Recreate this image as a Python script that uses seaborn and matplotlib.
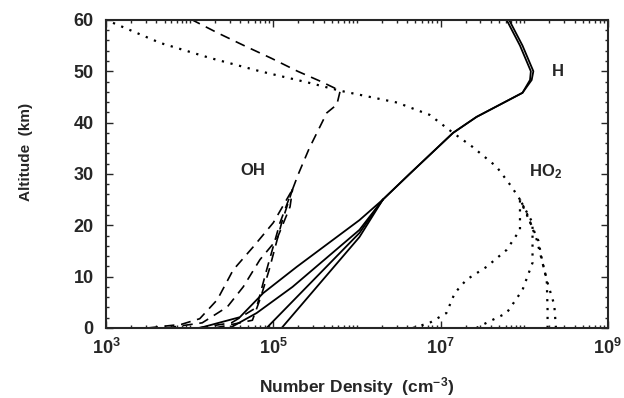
"""
Altitude profiles of H, OH and HO2 number density (log x axis).
"""

import numpy as np
import pandas as pd
import matplotlib
matplotlib.use("Agg")
import matplotlib.pyplot as plt
from matplotlib.ticker import FixedLocator, NullFormatter
import seaborn as sns

#####################################
## Data (log10 of number density, altitude in km)
#####################################

# H, shared upper part (25-60 km)
h_top_alt = [25.0, 30.0, 38.0, 41.1, 45.8, 48.3, 50.0, 55.0, 60.0]
h_top_log = [6.31, 6.63, 7.15, 7.43, 7.98, 8.07, 8.08, 7.95, 7.79]
# second, slightly offset trace near the top
h_top2_log = [6.31, 6.63, 7.15, 7.43, 7.98, 8.09, 8.11, 7.98, 7.82]

# H, four lower branches (0-25 km)
h_low_alt = [
    [0.0, 2.1, 6.8, 11.9, 21.0, 25.0],
    [0.0, 2.9, 8.0, 19.1, 25.0],
    [0.0, 18.5, 25.0],
    [0.0, 17.7, 25.0],
]
h_low_log = [
    [4.12, 4.60, 4.88, 5.28, 6.03, 6.31],
    [4.48, 4.80, 5.23, 6.03, 6.31],
    [4.92, 6.03, 6.31],
    [5.10, 6.03, 6.31],
]

# OH, shared upper part (27-60 km)
oh_top_alt = [27.0, 30.0, 35.0, 41.9, 43.5, 46.2, 48.0, 50.0, 52.5, 55.0, 57.5, 60.0]
oh_top_log = [5.23, 5.30, 5.43, 5.64, 5.76, 5.80, 5.57, 5.29, 4.98, 4.65, 4.33, 4.03]

# OH, four lower branches
oh_low_alt = [
    [0.0, 0.7, 1.8, 5.5, 11.3, 15.8, 20.5, 27.0],
    [0.0, 1.0, 4.1, 8.0, 13.3, 17.2, 23.6, 27.0],
    [0.0, 1.0, 4.0, 11.3, 20.5, 27.0],
    [0.0, 1.5, 6.0, 11.3, 20.5, 27.0],
]
oh_low_log = [
    [3.50, 3.90, 4.12, 4.33, 4.52, 4.76, 5.00, 5.23],
    [3.72, 4.15, 4.45, 4.64, 4.84, 5.04, 5.20, 5.23],
    [4.10, 4.50, 4.80, 4.92, 5.08, 5.23],
    [4.30, 4.75, 4.85, 4.95, 5.10, 5.23],
]

# HO2, shared upper part (25-60 km)
ho2_top_alt = [25.0, 27.5, 31.4, 35.3, 38.0, 41.5, 43.9, 46.2, 47.7, 50.0, 52.6, 55.5, 60.0]
ho2_top_log = [7.95, 7.85, 7.67, 7.38, 7.15, 6.87, 6.48, 5.80, 5.44, 4.84, 4.24, 3.65, 3.00]

# HO2, four lower branches
ho2_low_alt = [
    [0.0, 1.0, 2.9, 6.8, 9.4, 11.9, 15.2, 19.1, 23.6, 25.0],
    [0.0, 1.0, 2.9, 7.4, 12.7, 20.5, 25.0],
    [0.0, 3.5, 9.4, 17.2, 22.4, 25.0],
    [0.0, 4.5, 8.8, 12.7, 17.0, 25.0],
]
ho2_low_log = [
    [6.67, 6.87, 7.07, 7.17, 7.31, 7.55, 7.79, 7.95, 7.95, 7.95],
    [7.43, 7.55, 7.79, 7.98, 8.10, 8.10, 7.95],
    [8.28, 8.28, 8.27, 8.15, 8.03, 7.95],
    [8.38, 8.36, 8.28, 8.22, 8.17, 7.95],
]

#####################################
## Build a long table of all traces
#####################################

rows = []


def add_trace(name, species, alts, logs):
    for a, l in zip(alts, logs):
        rows.append({"trace": name, "species": species, "alt": a, "dens": 10 ** l})


add_trace("h_top", "H", h_top_alt, h_top_log)
add_trace("h_top2", "H", h_top_alt, h_top2_log)
for i in range(len(h_low_alt)):
    add_trace(f"h_low{i}", "H", h_low_alt[i], h_low_log[i])
add_trace("oh_top", "OH", oh_top_alt, oh_top_log)
for i in range(len(oh_low_alt)):
    add_trace(f"oh_low{i}", "OH", oh_low_alt[i], oh_low_log[i])
add_trace("ho2_top", "HO2", ho2_top_alt, ho2_top_log)
for i in range(len(ho2_low_alt)):
    add_trace(f"ho2_low{i}", "HO2", ho2_low_alt[i], ho2_low_log[i])

df = pd.DataFrame(rows)

#####################################
## Plot
#####################################

sns.set_theme(style="ticks")
plt.rcParams["font.family"] = ["Liberation Sans", "DejaVu Sans"]
plt.rcParams["font.weight"] = "bold"
plt.rcParams["mathtext.fontset"] = "custom"
plt.rcParams["mathtext.rm"] = "Liberation Sans:bold"
plt.rcParams["mathtext.bf"] = "Liberation Sans:bold"
plt.rcParams["mathtext.default"] = "bf"

fig = plt.figure(figsize=(6.24, 3.98), dpi=100)
ax = fig.add_axes([0.170, 0.176, 0.804, 0.774])

styles = {
    "H": dict(linestyle="-", linewidth=1.3),
    "OH": dict(linestyle=(0, (6, 4)), linewidth=1.2),
    "HO2": dict(linestyle=(0, (1, 3)), linewidth=1.6),
}

for name, grp in df.groupby("trace", sort=False):
    sp = grp["species"].iloc[0]
    sns.lineplot(data=grp, x="dens", y="alt", sort=False, estimator=None,
                 color="black", ax=ax, **styles[sp])

ax.set_xscale("log")
ax.set_xlim(1e3, 1e9)
ax.set_ylim(0, 60)

# ticks
ax.set_xticks([1e3, 1e5, 1e7, 1e9])
ax.set_xticklabels(["$10^{3}$", "$10^{5}$", "$10^{7}$", "$10^{9}$"])
minor_x = [m * 10 ** e for e in range(3, 9) for m in range(2, 10)] + [1e4, 1e6, 1e8]
ax.xaxis.set_minor_locator(FixedLocator(minor_x))
ax.xaxis.set_minor_formatter(NullFormatter())
ax.set_yticks(range(0, 61, 10))
ax.yaxis.set_minor_locator(FixedLocator(range(0, 61, 2)))

ax.tick_params(which="both", direction="in", top=True, right=True,
               width=1.0, labelsize=13)
ax.tick_params(which="major", length=5)
ax.tick_params(which="minor", length=2.5)
ax.tick_params(axis="y", pad=9)
ax.tick_params(axis="x", pad=7)
for lab in ax.get_yticklabels():
    lab.set_fontweight("bold")

for s in ax.spines.values():
    s.set_linewidth(1.5)

ax.set_xlabel("Number Density  (cm$^{-3}$)", fontsize=12.5, fontweight="bold")
ax.set_ylabel("Altitude  (km)", fontsize=11, fontweight="bold")
ax.xaxis.set_label_coords(0.5, -0.152)
ax.yaxis.set_label_coords(-0.145, 0.571)

# species labels
ax.text(10 ** 4.76, 30.6, "OH", fontsize=12, fontweight="bold", ha="center", va="center")
ax.text(10 ** 8.40, 49.9, "H", fontsize=12, fontweight="bold", ha="center", va="center")
ax.text(10 ** 8.25, 30.4, "HO$_{2}$", fontsize=12, fontweight="bold", ha="center", va="center")

plt.savefig("out.png", dpi=100)
